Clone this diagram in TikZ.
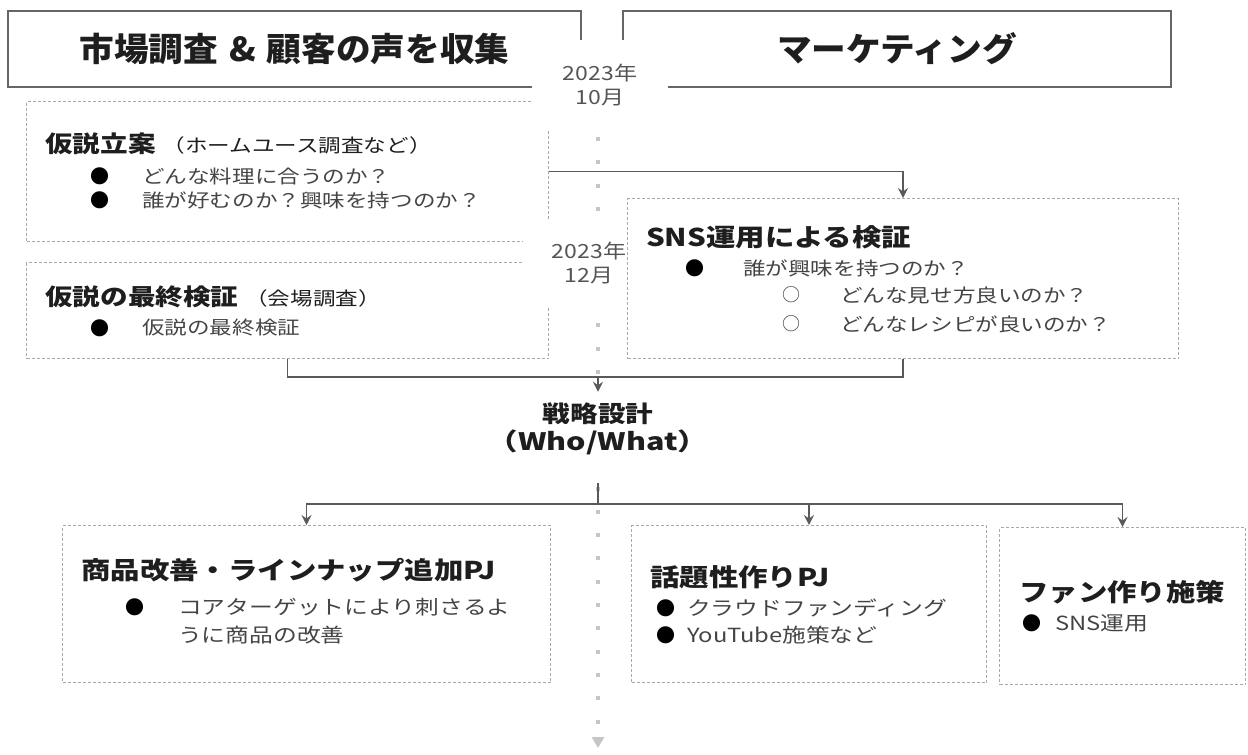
\documentclass[tikz,border=0pt]{standalone}
\usepackage{fontspec}
\setmainfont{Noto Sans CJK JP}
\newfontfamily\wf{Noto Sans CJK JP}[FakeStretch=1.22]
\newfontfamily\tf{Noto Sans CJK JP}[FakeStretch=1.2]
\newfontfamily\hf{Noto Sans CJK JP}[FakeStretch=1.05]
\newfontfamily\df{Noto Sans CJK JP}[FakeStretch=1.18]
\newfontfamily\vf{Noto Sans CJK JP}[FakeStretch=1.27]
\usetikzlibrary{arrows.meta}
\definecolor{hdrline}{HTML}{666666}
\definecolor{dotline}{HTML}{A8A8A8}
\definecolor{connc}{HTML}{5A5A5A}
\definecolor{tlc}{HTML}{C6C6C6}
\definecolor{titc}{HTML}{1E1E1E}
\definecolor{bodyc}{HTML}{444444}
\definecolor{datec}{HTML}{555555}
\begin{document}
\begin{tikzpicture}[x=1pt,y=-1pt,
  hdrbox/.style={draw=hdrline, line width=1.6pt, inner sep=0pt, text=titc, font=\hf\bfseries\fontsize{33}{40}\selectfont},
  dbox/.style={draw=dotline, line width=1pt, dash pattern=on 3pt off 2pt, inner sep=0pt, anchor=north west},
  datelbl/.style={fill=white, inner sep=0pt, align=center, text=datec, font=\df\fontsize{19.5}{24.5}\selectfont},
  ttl/.style={inner sep=0pt, anchor=west, text=titc, font=\tf\bfseries\fontsize{23}{27}\selectfont},
  ttlb/.style={ttl, font=\tf\bfseries\fontsize{24.5}{28}\selectfont},
  body/.style={inner sep=0pt, anchor=west, text=bodyc, font=\wf\fontsize{18.5}{21}\selectfont},
  bodyb/.style={body, font=\wf\fontsize{19.5}{22}\selectfont},
  bul/.style={inner sep=0pt, text=black, font=\fontsize{19}{20}\selectfont},
  wbul/.style={inner sep=0pt, text=bodyc, font=\fontsize{18}{20}\selectfont},
  conn/.style={draw=connc, line width=1.5pt, -{Stealth[length=10pt,width=10pt,inset=3.5pt]}},
  lnk/.style={draw=connc, line width=1.5pt},
  tline/.style={draw=tlc, line width=4pt, dash pattern=on 4pt off 19.3pt, -{Triangle[length=11pt,width=12pt]}}
]
\useasboundingbox (0,0) rectangle (1248,755);
% timeline
\coordinate (tltop) at (598,137);
\coordinate (tlbot) at (598,748);
\draw[tline] (tltop) -- (tlbot);
% headers
\node[hdrbox, minimum width=573pt, minimum height=76pt] (hl) at (294.5,49) {市場調査\hspace{3pt} \&\hspace{3pt} 顧客の声を収集};
\node[hdrbox, minimum width=548pt, minimum height=76pt] (hr) at (897,49) {マーケティング};
% left boxes
\node[dbox, minimum width=522pt, minimum height=140pt] (hyp1) at (26,101) {};
\node[dbox, minimum width=522pt, minimum height=96pt] (hyp2) at (26,262) {};
% date labels
\node[datelbl, minimum width=136pt, minimum height=91pt] (d1) at (600,85) {2023年\\10月};
\node[datelbl, minimum width=132pt, minimum height=88pt] (d2) at (589,263) {2023年\\12月};
% SNS box
\node[dbox, fill=white, minimum width=551pt, minimum height=160pt] (sns) at (627,198) {};
% lower boxes
\node[dbox, minimum width=488pt, minimum height=157pt] (p1) at (62,525) {};
\node[dbox, minimum width=355pt, minimum height=157pt] (p2) at (631,525) {};
\node[dbox, minimum width=246pt, minimum height=157pt] (p3) at (999,527) {};
% strategy node
\fill[white] (540,393) rectangle (656,482);
\node[inner xsep=0pt, inner ysep=11pt, align=center, text=titc, font=\bfseries\fontsize{23}{28}\selectfont] (strat) at (598,429) {{\tf 戦略設計}\\{\vf\fontsize{24}{28}\selectfont （Who/What）}};
% texts hyp1
\node[ttl] (t1) at (45,144) {仮説立案\hspace{7pt}{\mdseries\wf\fontsize{18.5}{21}\selectfont （ホームユース調査など）}};
\node[bul] (b1) at (100,176) {●};
\node[body] (s1) at (142,176) {どんな料理に合うのか？};
\node[bul] (b2) at (100,200) {●};
\node[body] (s2) at (142,200) {誰が好むのか？興味を持つのか？};
% texts hyp2
\node[ttl] (t2) at (45,297) {仮説の最終検証\hspace{7pt}{\mdseries\wf\fontsize{18.5}{21}\selectfont （会場調査）}};
\node[bul] (b3) at (100,328) {●};
\node[body] (s3) at (142,328) {仮説の最終検証};
% texts sns
\node[ttlb] (t3) at (646,237) {SNS運用による検証};
\node[bul] (b4) at (695,268) {●};
\node[body] (s4) at (743,268) {誰が興味を持つのか？};
\node[wbul] (b5) at (791,295) {○};
\node[body] (s5) at (840,295) {どんな見せ方良いのか？};
\node[wbul] (b6) at (791,324) {○};
\node[body] (s6) at (840,324) {どんなレシピが良いのか？};
% texts p1
\node[ttlb] (t4) at (81,570) {商品改善・ラインナップ追加PJ};
\node[bul] (b7) at (135,607) {●};
\node[bodyb] (s7) at (178,607) {コアターゲットにより刺さるよ};
\node[bodyb] (s8) at (178,635) {うに商品の改善};
% texts p2
\node[ttlb] (t5) at (650,577) {話題性作りPJ};
\node[bul] (b8) at (666,608) {●};
\node[bodyb] (s9) at (687,608) {クラウドファンディング};
\node[bul] (b9) at (666,635) {●};
\node[bodyb] (s10) at (687,635) {YouTube施策など};
% texts p3
\node[ttlb] (t6) at (1019,592) {ファン作り施策};
\node[bul] (b10) at (1032,623) {●};
\node[bodyb] (s11) at (1055,623) {SNS運用};
% connectors
\coordinate (merge) at (598,377);
\coordinate (split) at (598,504);
\draw[conn] (hyp1.east) -| (sns.north);
\draw[lnk] (hyp2.south) |- (merge) -| (sns.south);
\draw[conn] (merge) -- (strat.north);
\draw[lnk] ([yshift=-17pt]strat.south) -- (split);
\draw[conn] (split) -| (p1.north);
\draw[conn] (split) -| (p2.north);
\draw[conn] (split) -| (p3.north);
\end{tikzpicture}
\end{document}
